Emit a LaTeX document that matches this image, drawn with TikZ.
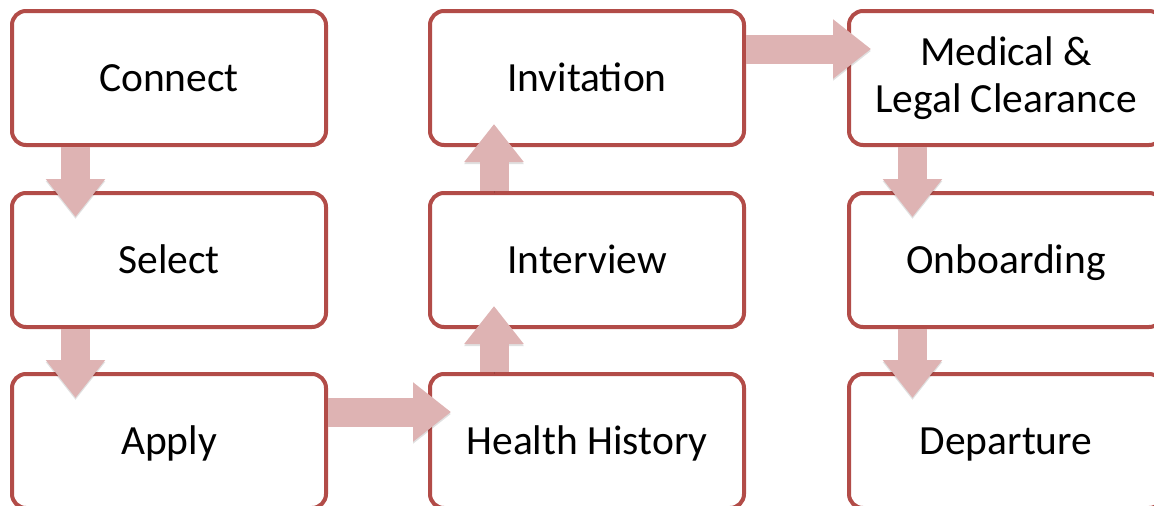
\documentclass[tikz,border=0pt]{standalone}
\usepackage{fontspec}
\setmainfont{Carlito}
\usetikzlibrary{arrows.meta}
\definecolor{boxred}{HTML}{B24C48}
\definecolor{arrowpink}{HTML}{DEB3B3}
\tikzset{
  stepbox/.style={draw=boxred, line width=4pt, fill=white, rounded corners=14pt,
    minimum width=314pt, minimum height=134pt, align=center, text=black,
    font=\fontsize{41.5}{47}\selectfont},
  oneline/.style={text height=36pt, text depth=9pt},
  flow/.style={draw=arrowpink, line width=29pt,
    -{Triangle[width=57pt,length=38pt]},
    preaction={draw=black, opacity=0.12, transform canvas={yshift=-2pt}}},
}
\begin{document}
\begin{tikzpicture}[x=1pt,y=-1pt]
\useasboundingbox (0,0) rectangle (1154,506);
\clip (0,0) rectangle (1154,506);
\node[stepbox,oneline] (connect) at (169,78) {Connect};
\node[stepbox,oneline] (select) at (169,260) {Select};
\node[stepbox,oneline] (apply) at (169,441) {Apply};
\node[stepbox,oneline] (health) at (587,441) {Health History};
\node[stepbox,oneline] (interview) at (587,260) {Interview};
\node[stepbox,oneline] (invitation) at (587,78) {Invitation};
\node[stepbox] (medical) at (1006,78) {Medical \&\\Legal Clearance};
\node[stepbox,oneline] (onboarding) at (1006,260) {Onboarding};
\node[stepbox,oneline] (departure) at (1006,441) {Departure};
\draw[flow] ([xshift=65.5pt]connect.south west) -- ([xshift=65.5pt,yshift=-26pt]select.north west);
\draw[flow] ([xshift=65.5pt]select.south west) -- ([xshift=65.5pt,yshift=-26pt]apply.north west);
\draw[flow] ([yshift=-40pt]apply.north east) -- ([xshift=23pt,yshift=-40pt]health.north west);
\draw[flow] ([xshift=66pt]health.north west) -- ([xshift=66pt,yshift=23pt]interview.south west);
\draw[flow] ([xshift=66pt]interview.north west) -- ([xshift=66pt,yshift=23pt]invitation.south west);
\draw[flow] ([yshift=-40pt]invitation.north east) -- ([xshift=24pt,yshift=-40pt]medical.north west);
\draw[flow] ([xshift=65.5pt]medical.south west) -- ([xshift=65.5pt,yshift=-26pt]onboarding.north west);
\draw[flow] ([xshift=65.5pt]onboarding.south west) -- ([xshift=65.5pt,yshift=-26pt]departure.north west);
\end{tikzpicture}
\end{document}
